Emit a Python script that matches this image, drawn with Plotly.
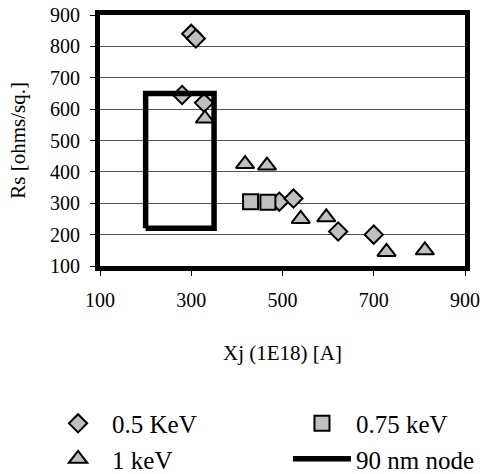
import plotly.graph_objects as go

# Junction depth Xj (1E18) [A] vs sheet resistance Rs [ohms/sq.]
xj_05kev = [300, 310, 280, 328, 493, 524, 622, 700]
rs_05kev = [840, 825, 645, 620, 305, 315, 210, 200]

xj_075kev = [430, 468]
rs_075kev = [305, 303]

xj_1kev = [330, 418, 466, 540, 596, 728, 812]
rs_1kev = [570, 425, 420, 250, 255, 145, 150]

# 90 nm node target window (closed outline)
node_xj = [200, 350, 350, 200, 200]
node_rs = [220, 220, 650, 650, 220]

x_ticks = [100, 300, 500, 700, 900]
y_ticks = [100, 200, 300, 400, 500, 600, 700, 800, 900]

FONT = "Liberation Serif"
FILL = "#c0c0c0"

fig = go.Figure()

fig.add_trace(go.Scatter(
    x=xj_05kev, y=rs_05kev, mode="markers", name="0.5 KeV",
    legend="legend", legendgroup="a",
    marker=dict(symbol="diamond", size=14, color=FILL,
                line=dict(color="black", width=2)),
))
fig.add_trace(go.Scatter(
    x=xj_075kev, y=rs_075kev, mode="markers", name="0.75 keV",
    legend="legend2", legendgroup="b",
    marker=dict(symbol="square", size=15, color=FILL,
                line=dict(color="black", width=2)),
))
fig.add_trace(go.Scatter(
    x=xj_1kev, y=rs_1kev, mode="markers", name="1 keV",
    legend="legend", legendgroup="c",
    marker=dict(symbol="triangle-up", size=16, color=FILL,
                line=dict(color="black", width=2)),
))
fig.add_trace(go.Scatter(
    x=node_xj, y=node_rs, mode="lines", name="90 nm node",
    legend="legend2", legendgroup="d",
    line=dict(color="black", width=5.5),
))

legend_common = dict(
    orientation="v", xref="container", yref="container",
    xanchor="left", yanchor="top", itemwidth=58,
    tracegroupgap=9, font=dict(family=FONT, size=25),
    traceorder="normal", bgcolor="rgba(0,0,0,0)",
)

fig.update_layout(
    width=484, height=474,
    margin=dict(l=100, r=19, t=15, b=208, autoexpand=False),
    paper_bgcolor="white", plot_bgcolor="white",
    font=dict(family=FONT, size=20, color="black"),
    showlegend=True,
    legend=dict(x=0.091, y=0.155, **legend_common),
    legend2=dict(x=0.595, y=0.155, **legend_common),
    annotations=[dict(
        text="Rs [ohms/sq.]", textangle=-90, showarrow=False,
        xref="paper", yref="paper", x=-0.227, y=0.5,
        xanchor="center", yanchor="middle",
        font=dict(family=FONT, size=21),
    )],
)

fig.update_xaxes(
    range=[100, 900], tickvals=x_ticks, showgrid=False,
    showline=True, linecolor="black", linewidth=5, mirror=True,
    ticks="outside", ticklen=5, tickwidth=1, tickcolor="black",
    ticklabelstandoff=7, zeroline=False,
    title=dict(text="Xj (1E18) [A]", font=dict(size=21), standoff=37),
)
fig.update_yaxes(
    range=[100, 900], tickvals=y_ticks, showgrid=True,
    gridcolor="#555555", gridwidth=1,
    showline=True, linecolor="black", linewidth=5, mirror=True,
    ticks="outside", ticklen=5, tickwidth=1, tickcolor="black",
    ticklabelstandoff=6, zeroline=False,
)

fig.write_html("out.html")
